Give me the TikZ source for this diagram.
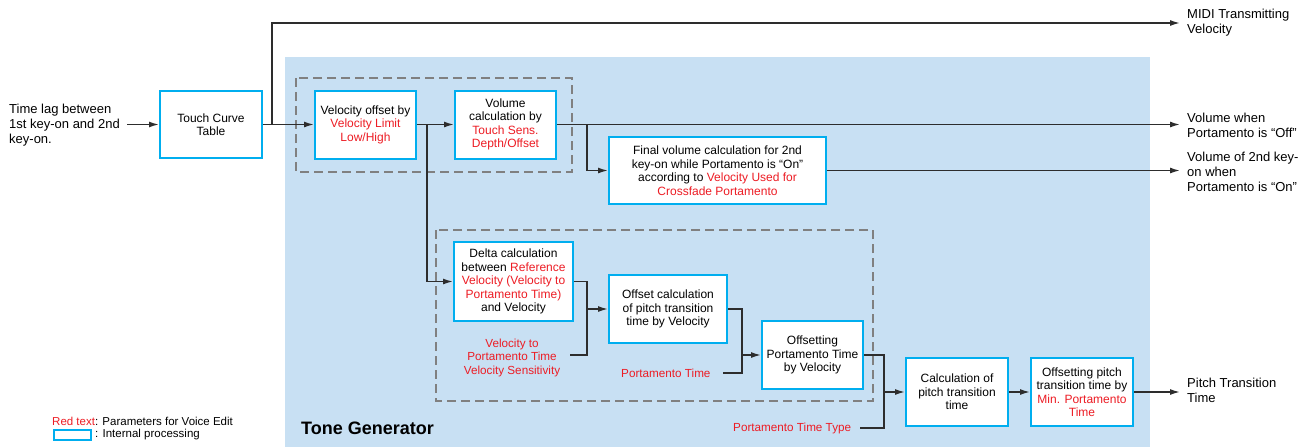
\documentclass[tikz,border=0pt]{standalone}
\usepackage{fontspec}
\setmainfont{Liberation Sans}
\usetikzlibrary{arrows.meta}
\definecolor{tgblue}{RGB}{200,224,243}
\definecolor{boxcyan}{RGB}{0,174,239}
\definecolor{vred}{RGB}{237,28,36}
\definecolor{conn}{RGB}{45,45,45}
\definecolor{dashgray}{RGB}{128,128,128}
\newcommand{\rt}[1]{\textcolor{vred}{#1}}
\begin{document}
\begin{tikzpicture}[x=1pt,y=-1pt,
 procbox/.style={draw=boxcyan,line width=2pt,fill=white,align=center,inner sep=2pt,font=\fontsize{12}{13.5}\selectfont},
 conline/.style={draw=conn,line width=1.5pt},
 arr/.style={conline,-{Latex[length=10pt,width=6pt]}},
 outlabel/.style={anchor=west,align=left,inner sep=0pt,font=\fontsize{13}{15}\selectfont},
 redlabel/.style={text=vred,align=center,inner sep=0pt,font=\fontsize{11.7}{13.5}\selectfont},
 smalltext/.style={anchor=west,inner sep=0pt,font=\fontsize{11.5}{13.5}\selectfont},
 groupbox/.style={draw=dashgray,line width=2.5pt,dash pattern=on 9pt off 5pt}]

\useasboundingbox (0,0) rectangle (1311,447);
\fill[tgblue] (285,57) rectangle (1150,447);

% group boxes
\draw[groupbox] (296,78) rectangle (572,172);
\draw[groupbox] (436,230) rectangle (873,401);

% outside labels
\node[outlabel] (lag) at (9,125) {Time lag between\\1st key-on and 2nd\\key-on.};
\node[outlabel] (midi) at (1187,22.5) {MIDI Transmitting\\Velocity};
\node[outlabel] (voloff) at (1187,125) {Volume when\\Portamento is “Off”};
\node[outlabel] (volon) at (1187,172) {Volume of 2nd key-\\on when\\Portamento is “On”};
\node[outlabel] (pitch) at (1187,390) {Pitch Transition\\Time};

% red parameter labels
\node[redlabel] (sens) at (512,357.5) {Velocity to\\Portamento Time\\Velocity Sensitivity};
\node[redlabel,anchor=west] (ptime) at (621,373) {Portamento Time};
\node[redlabel,anchor=west] (pttype) at (733,428) {Portamento Time Type};

% processing boxes
\node[procbox,minimum width=102pt,minimum height=67pt] (touch) at (211,124.5) {Touch Curve\\Table};
\node[procbox,minimum width=101pt,minimum height=68pt] (velo) at (365.5,124.5) {Velocity offset by\\\rt{Velocity Limit}\\\rt{Low/High}};
\node[procbox,minimum width=101pt,minimum height=68pt] (vol) at (505.5,124.5) {Volume\\calculation by\\\rt{Touch Sens.}\\\rt{Depth/Offset}};
\node[procbox,minimum width=217pt,minimum height=67pt] (final) at (717.5,170.5) {Final volume calculation for 2nd\\key-on while Portamento is “On”\\according to \rt{Velocity Used for}\\\rt{Crossfade Portamento}};
\node[procbox,minimum width=119pt,minimum height=79pt] (delta) at (513.5,281.5) {Delta calculation\\between \rt{Reference}\\\rt{Velocity (Velocity to}\\\rt{Portamento Time)}\\and Velocity};
\node[procbox,minimum width=118pt,minimum height=68pt] (offcalc) at (668,309) {Offset calculation\\of pitch transition\\time by Velocity};
\node[procbox,minimum width=101pt,minimum height=68pt] (offport) at (812.5,355) {Offsetting\\Portamento Time\\by Velocity};
\node[procbox,minimum width=102pt,minimum height=68pt] (calcpitch) at (957,392) {Calculation of\\pitch transition\\time};
\node[procbox,minimum width=102pt,minimum height=68pt] (offpitch) at (1082,392) {Offsetting pitch\\transition time by\\\rt{Min. Portamento}\\\rt{Time}};

% coordinates
\coordinate (in) at (127,124.5);
\coordinate (b1) at (272,124.5);
\coordinate (b2) at (427,124.5);
\coordinate (b3) at (587,124.5);
\coordinate (j1) at (587,309);
\coordinate (j2) at (742,355);
\coordinate (j3) at (884,392);
\coordinate (sensout) at (570,355);
\coordinate (ptimeout) at (723,373);
\coordinate (pttypeout) at (860,428);
\coordinate (midiin) at (1180,23);
\coordinate (voloffin) at (1180,124.5);
\coordinate (volonin) at (1180,170.5);
\coordinate (pitchin) at (1180,392);

% connectors
\draw[arr] (in) -- (touch.west);
\draw[arr] (touch.east) -- (velo.west);
\draw[arr] (b1) |- (midiin);
\draw[arr] (velo.east) -- (vol.west);
\draw[arr] (b2) |- (delta.west);
\draw[arr] (vol.east) -- (voloffin);
\draw[arr] (b3) |- (final.west);
\draw[arr] (final.east) -- (volonin);
\draw[arr] (delta.east) -| (j1) -- (offcalc.west);
\draw[conline] (sensout) -| (j1);
\draw[arr] (offcalc.east) -| (j2) -- (offport.west);
\draw[conline] (ptimeout) -| (j2);
\draw[arr] (offport.east) -| (j3) -- (calcpitch.west);
\draw[conline] (pttypeout) -| (j3);
\draw[arr] (calcpitch.east) -- (offpitch.west);
\draw[arr] (offpitch.east) -- (pitchin);

% title and legend
\node[anchor=west,inner sep=0pt,font=\bfseries\fontsize{18}{20}\selectfont] (tg) at (301,428) {Tone Generator};
\node[smalltext] (leg1) at (52,421) {\rt{Red text}: Parameters for Voice Edit};
\node[draw=boxcyan,line width=1.5pt,minimum width=37pt,minimum height=10pt,inner sep=0pt] (legbox) at (72.5,435) {};
\node[smalltext] (leg2) at (95,435) {: Internal processing};
\end{tikzpicture}
\end{document}
